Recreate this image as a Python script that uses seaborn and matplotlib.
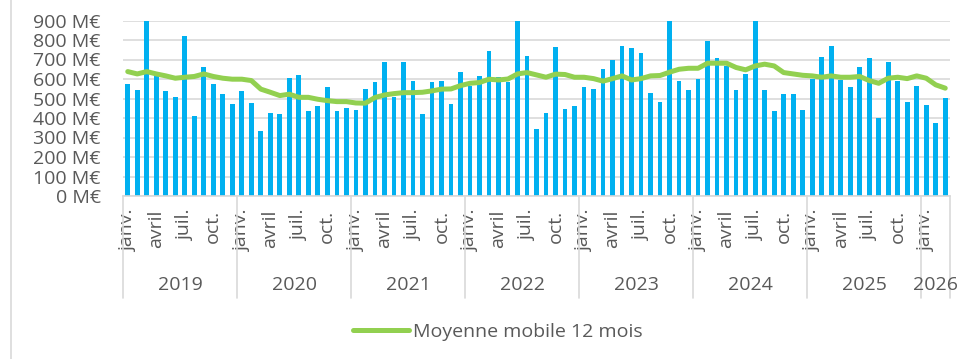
import numpy as np
import pandas as pd
import matplotlib
matplotlib.use("Agg")
import matplotlib.pyplot as plt
from matplotlib.lines import Line2D
import seaborn as sns

# Monthly amounts (M€), January 2019 to March 2026
years = ["2019", "2020", "2021", "2022", "2023", "2024", "2025", "2026"]
months_per_year = [12, 12, 12, 12, 12, 12, 12, 3]
month_tick_labels = ["janv.", "avril", "juil.", "oct."]

monthly_2019 = [573, 542, 920, 638, 536, 510, 823, 409, 662, 573, 522, 472]
monthly_2020 = [536, 479, 332, 428, 421, 606, 618, 435, 460, 561, 435, 452]
monthly_2021 = [441, 548, 587, 688, 510, 688, 592, 421, 587, 592, 472, 636]
monthly_2022 = [565, 616, 744, 611, 587, 905, 719, 344, 426, 763, 447, 459]
monthly_2023 = [559, 548, 650, 700, 770, 758, 732, 529, 484, 965, 592, 542]
monthly_2024 = [599, 796, 707, 669, 542, 625, 970, 542, 435, 522, 522, 440]
monthly_2025 = [602, 714, 770, 595, 559, 662, 707, 402, 688, 592, 484, 566]
monthly_2026 = [465, 376, 503]

# 12-month moving average (M€)
moving_avg = [
    638, 626, 638, 626, 616, 604, 609, 613, 626, 613, 604, 599,
    599, 592, 548, 532, 515, 522, 506, 506, 496, 489, 484, 484,
    477, 476, 505, 518, 525, 530, 530, 532, 539, 548, 549, 566,
    578, 582, 599, 595, 600, 626, 633, 621, 609, 625, 623, 609,
    609, 602, 589, 602, 616, 595, 602, 616, 618, 635, 650, 655,
    655, 681, 681, 681, 659, 647, 667, 676, 667, 633, 626, 619,
    616, 609, 616, 609, 609, 613, 592, 578, 604, 609, 602, 616,
    604, 570, 553,
]

amounts = (monthly_2019 + monthly_2020 + monthly_2021 + monthly_2022
           + monthly_2023 + monthly_2024 + monthly_2025 + monthly_2026)
n = len(amounts)
idx = np.arange(n)
df = pd.DataFrame({"pos": idx, "amount": amounts, "avg": moving_avg})

BAR = "#00B0F0"
LINE = "#92D050"
GRID = "#D9D9D9"
TEXT = "#595959"
FS = 14

sns.set_style("white")
plt.rcParams["font.family"] = ["Open Sans", "DejaVu Sans"]

fig = plt.figure(figsize=(9.61, 3.59), dpi=100)
ax = fig.add_axes([123 / 961, 1 - 196 / 359, (950 - 123) / 961, (196 - 20.5) / 359])

sns.barplot(data=df, x="pos", y="amount", color=BAR, saturation=1,
            width=0.5, ax=ax, zorder=2, linewidth=0)
sns.lineplot(data=df, x="pos", y="avg", color=LINE, linewidth=3.6,
             ax=ax, zorder=3, solid_capstyle="round")

ax.set_xlim(-0.5, n - 0.5)
ax.set_ylim(0, 900)
ax.set_yticks(np.arange(0, 901, 100))
ax.set_yticklabels([f"{v} M€" for v in range(0, 901, 100)], fontsize=FS, color=TEXT)
ax.yaxis.grid(True, color=GRID, linewidth=1.2, zorder=0)
ax.set_axisbelow(True)
ax.tick_params(axis="y", length=0, pad=16)

# month tick labels every quarter
tick_pos, tick_lab = [], []
start = 0
for count in months_per_year:
    for m in range(0, count, 3):
        tick_pos.append(start + m)
        tick_lab.append(month_tick_labels[m // 3])
    start += count
ax.set_xticks(tick_pos)
ax.set_xticklabels(tick_lab, rotation=90, fontsize=FS, color=TEXT)
ax.tick_params(axis="x", length=0, pad=10)
ax.set_xlabel("")
ax.set_ylabel("")

for side in ["top", "right", "left"]:
    ax.spines[side].set_visible(False)
ax.spines["bottom"].set_color(GRID)
ax.spines["bottom"].set_linewidth(1.2)

# year group labels and separators
tr = ax.get_xaxis_transform()
start = 0
bounds = [-0.5]
for year, count in zip(years, months_per_year):
    ax.text(start + count / 2 - 0.5, -0.507, year, transform=tr,
            ha="center", va="center", fontsize=FS, color=TEXT)
    start += count
    bounds.append(start - 0.5)
for b in bounds:
    ax.plot([b, b], [0, -0.581], transform=tr, color=GRID, linewidth=1.2,
            clip_on=False, zorder=1)

handle = Line2D([], [], color=LINE, linewidth=3.6, solid_capstyle="round")
fig.legend([handle], ["Moyenne mobile 12 mois"], loc="center",
           bbox_to_anchor=(0.518, 1 - 332 / 359), frameon=False, fontsize=FS,
           handlelength=2.9, handletextpad=0.2, labelcolor=TEXT)

fig.add_artist(Line2D([11 / 961, 11 / 961], [0, 1], color=GRID, linewidth=1.2))

fig.savefig("out.png", dpi=100)
